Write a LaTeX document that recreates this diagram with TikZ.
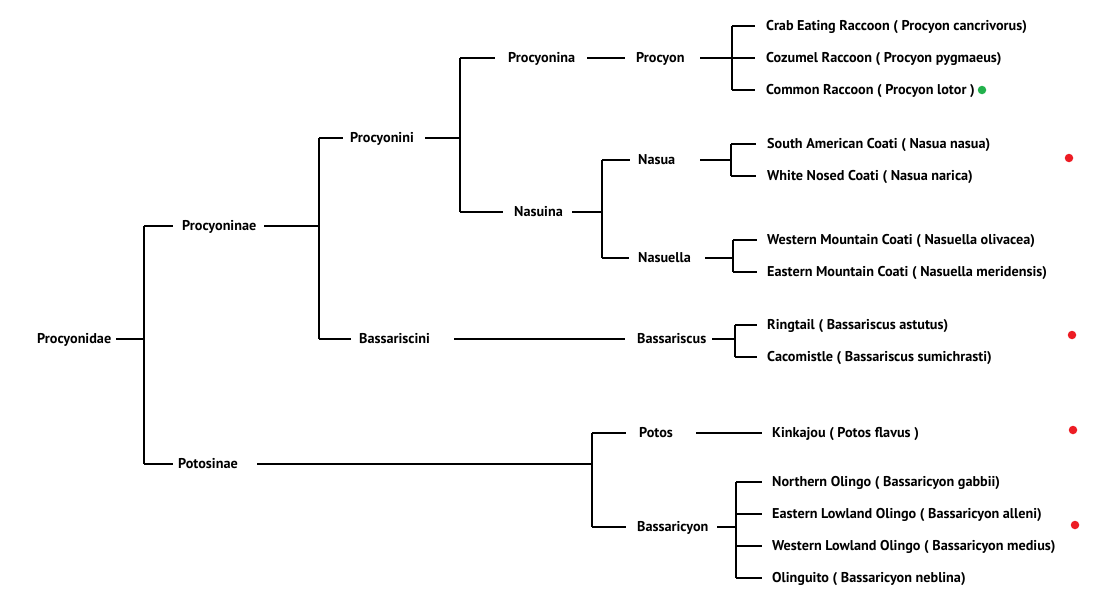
\documentclass[tikz,border=0pt]{standalone}
\usepackage{fontspec}
\setmainfont{PT Sans}
\begin{document}
\begin{tikzpicture}[x=1pt,y=-1pt,
  lbl/.style={anchor=west,inner sep=0pt,text height=9.8pt,text depth=0pt,font=\fontsize{14.2}{16}\selectfont\bfseries},
  link/.style={line width=1.3pt,black},
  dotg/.style={fill={rgb,255:red,34;green,177;blue,76},draw=none},
  dotr/.style={fill={rgb,255:red,237;green,28;blue,36},draw=none}]
\useasboundingbox[fill=white] (0,0) rectangle (1116,608);
% internal nodes
\node[lbl,text width=79] (pfam) at (37,339) {Procyonidae};
\node[lbl,text width=82] (pinae) at (182,226) {Procyoninae};
\node[lbl,text width=79] (potosinae) at (178,464) {Potosinae};
\node[lbl,text width=75] (pini) at (350,138) {Procyonini};
\node[lbl,text width=95] (bini) at (359,339) {Bassariscini};
\node[lbl,text width=79] (pina) at (508,58) {Procyonina};
\node[lbl,text width=58] (nasuina) at (514,212) {Nasuina};
\node[lbl,text width=64] (procyon) at (636,58) {Procyon};
\node[lbl,text width=62] (nasua) at (638,160) {Nasua};
\node[lbl,text width=67] (nasuella) at (638,258) {Nasuella};
\node[lbl,text width=75] (bassariscus) at (637,339) {Bassariscus};
\node[lbl,text width=57] (potos) at (639,433) {Potos};
\node[lbl,text width=80] (bassaricyon) at (637,527) {Bassaricyon};
% leaves
\node[lbl] (crab) at (766,26) {Crab Eating Raccoon ( Procyon cancrivorus)};
\node[lbl] (cozumel) at (766,58) {Cozumel Raccoon ( Procyon pygmaeus)};
\node[lbl] (common) at (766,90) {Common Raccoon ( Procyon lotor )};
\node[lbl] (sacoati) at (767,144) {South American Coati ( Nasua nasua)};
\node[lbl] (wncoati) at (767,176) {White Nosed Coati ( Nasua narica)};
\node[lbl] (wmcoati) at (767,240) {Western Mountain Coati ( Nasuella olivacea)};
\node[lbl] (emcoati) at (767,272) {Eastern Mountain Coati ( Nasuella meridensis)};
\node[lbl] (ringtail) at (767,325) {Ringtail ( Bassariscus astutus)};
\node[lbl] (cacomistle) at (767,357) {Cacomistle ( Bassariscus sumichrasti)};
\node[lbl] (kinkajou) at (772,433) {Kinkajou ( Potos flavus )};
\node[lbl] (nolingo) at (772,482) {Northern Olingo ( Bassaricyon gabbii)};
\node[lbl] (elolingo) at (772,514) {Eastern Lowland Olingo ( Bassaricyon alleni)};
\node[lbl] (wlolingo) at (772,546) {Western Lowland Olingo ( Bassaricyon medius)};
\node[lbl] (olinguito) at (772,578) {Olinguito ( Bassaricyon neblina)};
% dots
\node[dotg,circle,minimum size=8.5pt,inner sep=0pt] (gdot) at (982,90) {};
\node[dotr,circle,minimum size=8.5pt,inner sep=0pt] (rdot1) at (1069,158) {};
\node[dotr,circle,minimum size=8.5pt,inner sep=0pt] (rdot2) at (1072,335) {};
\node[dotr,circle,minimum size=8.5pt,inner sep=0pt] (rdot3) at (1073,430) {};
\node[dotr,circle,minimum size=8.5pt,inner sep=0pt] (rdot4) at (1075,525) {};
% junction columns
\coordinate (j1) at (144,0);
\coordinate (j2) at (319,0);
\coordinate (j3) at (460,0);
\coordinate (j4) at (602,0);
\coordinate (j5) at (592,0);
\coordinate (jp) at (732,0);
\coordinate (jn) at (731,0);
\coordinate (jnl) at (733,0);
\coordinate (jb) at (735,0);
\coordinate (jo) at (736,0);
% Procyonidae
\draw[link] (pfam.east) -- (pfam.east -| j1);
\draw[link] (pinae.west -| j1) -- (potosinae.west -| j1);
\draw[link] (pinae.west -| j1) -- ([xshift=-9]pinae.west);
\draw[link] (potosinae.west -| j1) -- ([xshift=-5]potosinae.west);
% Procyoninae
\draw[link] (pinae.east) -- (pinae.east -| j2);
\draw[link] (pini.west -| j2) -- (bini.west -| j2);
\draw[link] (pini.west -| j2) -- ([xshift=-7]pini.west);
\draw[link] (bini.west -| j2) -- ([xshift=-8]bini.west);
% Procyonini
\draw[link] (pini.east) -- (pini.east -| j3);
\draw[link] (pina.west -| j3) -- (nasuina.west -| j3);
\draw[link] (pina.west -| j3) -- ([xshift=-13]pina.west);
\draw[link] (nasuina.west -| j3) -- ([xshift=-11]nasuina.west);
% Procyonina
\draw[link] (pina.east) -- ([xshift=-11]procyon.west);
% Procyon
\draw[link] (procyon.east) -- (procyon.east -| jp);
\draw[link] (crab.west -| jp) -- (common.west -| jp);
\foreach \c in {crab,cozumel,common}
  \draw[link] (\c.west -| jp) -- ([xshift=-11]\c.west);
% Nasuina
\draw[link] (nasuina.east) -- (nasuina.east -| j4);
\draw[link] (nasua.west -| j4) -- (nasuella.west -| j4);
\draw[link] (nasua.west -| j4) -- ([xshift=-8]nasua.west);
\draw[link] (nasuella.west -| j4) -- ([xshift=-9]nasuella.west);
% Nasua
\draw[link] (nasua.east) -- (nasua.east -| jn);
\draw[link] (sacoati.west -| jn) -- (wncoati.west -| jn);
\foreach \c in {sacoati,wncoati}
  \draw[link] (\c.west -| jn) -- ([xshift=-11]\c.west);
% Nasuella
\draw[link] (nasuella.east) -- (nasuella.east -| jnl);
\draw[link] (wmcoati.west -| jnl) -- (emcoati.west -| jnl);
\foreach \c in {wmcoati,emcoati}
  \draw[link] (\c.west -| jnl) -- ([xshift=-10]\c.west);
% Bassariscini
\draw[link] (bini.east) -- ([xshift=-12]bassariscus.west);
% Bassariscus
\draw[link] (bassariscus.east) -- (bassariscus.east -| jb);
\draw[link] (ringtail.west -| jb) -- (cacomistle.west -| jb);
\foreach \c in {ringtail,cacomistle}
  \draw[link] (\c.west -| jb) -- ([xshift=-10]\c.west);
% Potosinae
\draw[link] (potosinae.east) -- (potosinae.east -| j5);
\draw[link] (potos.west -| j5) -- (bassaricyon.west -| j5);
\draw[link] (potos.west -| j5) -- ([xshift=-13]potos.west);
\draw[link] (bassaricyon.west -| j5) -- ([xshift=-11]bassaricyon.west);
% Potos
\draw[link] (potos.east) -- ([xshift=-10]kinkajou.west);
% Bassaricyon
\draw[link] (bassaricyon.east) -- (bassaricyon.east -| jo);
\draw[link] (nolingo.west -| jo) -- (olinguito.west -| jo);
\foreach \c in {nolingo,elolingo,wlolingo,olinguito}
  \draw[link] (\c.west -| jo) -- ([xshift=-10]\c.west);
\end{tikzpicture}
\end{document}
